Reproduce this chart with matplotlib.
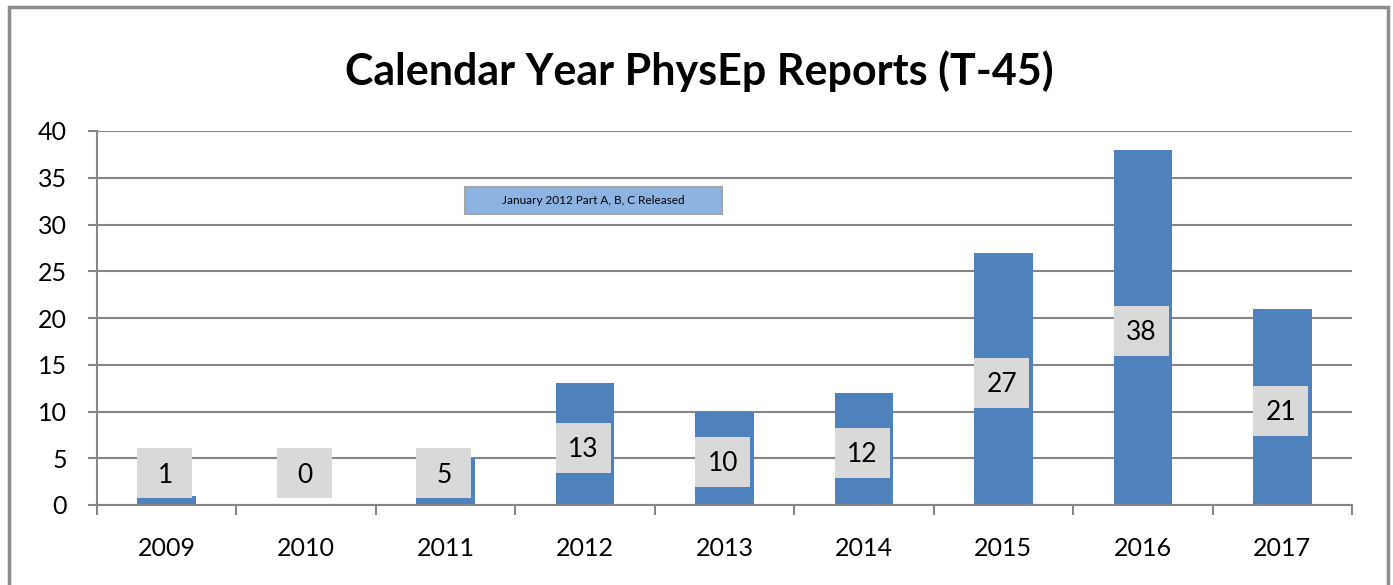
import matplotlib.pyplot as plt
from matplotlib.patches import Rectangle
import numpy as np

years = ["2009", "2010", "2011", "2012", "2013", "2014", "2015", "2016", "2017"]
reports = [1, 0, 5, 13, 10, 12, 27, 38, 21]

BAR = "#4f81bd"
GRID = "#868686"
BAR_W = 0.42

plt.rcParams["font.family"] = ["Lato", "DejaVu Sans"]

fig = plt.figure(figsize=(13.93, 5.85), dpi=100)
ax = fig.add_axes([97 / 1393, 80 / 585, 1255 / 1393, 374 / 585])

x = np.arange(len(years))
ax.bar(x, reports, width=BAR_W, color=BAR, zorder=2)

# data labels on grey boxes, roughly the width of a bar
box_h = 5.35
for xi, v in zip(x, reports):
    yc = max(v / 2 - 0.4, 3.4)
    ax.add_patch(Rectangle((xi - BAR_W / 2, yc - box_h / 2), BAR_W * 0.94, box_h,
                           facecolor="#d9d9d9", edgecolor="none", zorder=3))
    ax.text(xi - 0.01, yc - 0.2, str(v), ha="center", va="center",
            fontsize=19, color="black", zorder=4)

ax.set_xlim(-0.5, len(years) - 0.5)
ax.set_ylim(0, 40)
ax.set_yticks(np.arange(0, 41, 5))
ax.set_xticks(x)
ax.set_xticklabels(years, fontsize=18)
ax.set_xticks(np.arange(-0.5, len(years), 1), minor=True)
ax.tick_params(axis="x", which="major", length=0, pad=23)
ax.tick_params(axis="x", which="minor", length=7, width=1.5, color=GRID, direction="out")
ax.tick_params(axis="y", length=6.5, width=1.5, color=GRID, labelsize=18, pad=15)
ax.yaxis.grid(True, color=GRID, linewidth=1.5, zorder=0)
ax.set_axisbelow(True)
for side in ["top", "right"]:
    ax.spines[side].set_visible(False)
for side in ["left", "bottom"]:
    ax.spines[side].set_color(GRID)
    ax.spines[side].set_linewidth(1.5)

# annotation box
ax.add_patch(Rectangle((2.14, 31.1), 1.84, 2.9, facecolor="#8db3e2",
                       edgecolor="#a6a6a6", linewidth=1.5, zorder=3))
ax.text(3.06, 32.55, "January 2012 Part A, B, C Released", ha="center", va="center",
        fontsize=8.5, zorder=4)

fig.text(0.502, 0.878, "Calendar Year PhysEp Reports (T-45)", ha="center", va="center",
         fontsize=31, fontweight="bold")

fig.patches.append(Rectangle((9 / 1393, -0.02), 1379 / 1393, 1.008, transform=fig.transFigure,
                             fill=False, edgecolor="#8c8c8c", linewidth=2.5))

fig.savefig("out.png", dpi=100)
